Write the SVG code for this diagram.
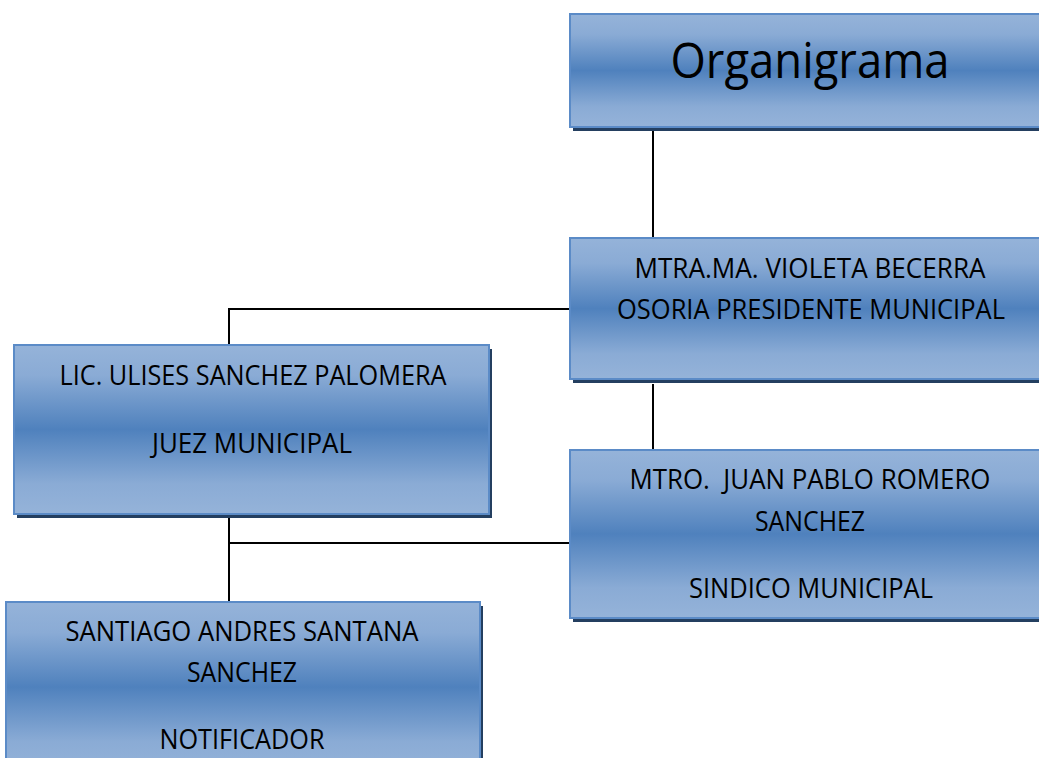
<svg xmlns="http://www.w3.org/2000/svg" width="1039" height="758" viewBox="0 0 1039 758">
<style>
.box{fill:url(#g);stroke:#5b8bc7;stroke-width:2}
.sh{fill:#243f60}
.t{font-family:"Open Sans","Liberation Sans",sans-serif;font-size:27px;fill:#000;text-anchor:middle}
.c{fill:none;stroke:#000;stroke-width:2}
</style>
<defs>
<linearGradient id="g" x1="0" y1="0" x2="0" y2="1">
<stop offset="0" stop-color="#95b3d9"/>
<stop offset="0.18" stop-color="#8aabd5"/>
<stop offset="0.5" stop-color="#4f81bd"/>
<stop offset="0.82" stop-color="#8aabd5"/>
<stop offset="1" stop-color="#95b3d9"/>
</linearGradient>
</defs>
<rect width="1039" height="758" fill="#fff"/>
<g id="connectors">
<path class="c" d="M653,131 V238"/>
<path class="c" d="M570,309 H229 V345"/>
<path class="c" d="M653,384 V450"/>
<path class="c" d="M229,518 V602"/>
<path class="c" d="M229,543 H570"/>
</g>
<g id="n-title">
<rect class="sh" x="573" y="18" width="475" height="113"/>
<rect class="box" x="570" y="14" width="475" height="113"/>
<text class="t" x="810" y="78" style="font-size:50px" textLength="279" lengthAdjust="spacingAndGlyphs">Organigrama</text>
</g>
<g id="n-presidente">
<rect class="sh" x="573" y="242" width="475" height="141"/>
<rect class="box" x="570" y="238" width="475" height="141"/>
<text class="t" x="810" y="278" textLength="351" lengthAdjust="spacingAndGlyphs">MTRA.MA. VIOLETA BECERRA</text>
<text class="t" x="811" y="319" textLength="388" lengthAdjust="spacingAndGlyphs">OSORIA PRESIDENTE MUNICIPAL</text>
</g>
<g id="n-juez">
<rect class="sh" x="17" y="349" width="475" height="169"/>
<rect class="box" x="14" y="345" width="475" height="169"/>
<text class="t" x="253" y="385" textLength="387" lengthAdjust="spacingAndGlyphs">LIC. ULISES SANCHEZ PALOMERA</text>
<text class="t" x="252" y="453" textLength="200" lengthAdjust="spacingAndGlyphs">JUEZ MUNICIPAL</text>
</g>
<g id="n-sindico">
<rect class="sh" x="573" y="454" width="475" height="168"/>
<rect class="box" x="570" y="450" width="475" height="168"/>
<text class="t" x="810" y="489" textLength="361" lengthAdjust="spacingAndGlyphs" xml:space="preserve">MTRO.  JUAN PABLO ROMERO</text>
<text class="t" x="810" y="531" textLength="110" lengthAdjust="spacingAndGlyphs">SANCHEZ</text>
<text class="t" x="811" y="598" textLength="244" lengthAdjust="spacingAndGlyphs">SINDICO MUNICIPAL</text>
</g>
<g id="n-notificador">
<rect class="sh" x="9" y="606" width="474" height="170"/>
<rect class="box" x="6" y="602" width="474" height="170"/>
<text class="t" x="242" y="641" textLength="353" lengthAdjust="spacingAndGlyphs">SANTIAGO ANDRES SANTANA</text>
<text class="t" x="242" y="682" textLength="110" lengthAdjust="spacingAndGlyphs">SANCHEZ</text>
<text class="t" x="242" y="749" textLength="165" lengthAdjust="spacingAndGlyphs">NOTIFICADOR</text>
</g>
</svg>
